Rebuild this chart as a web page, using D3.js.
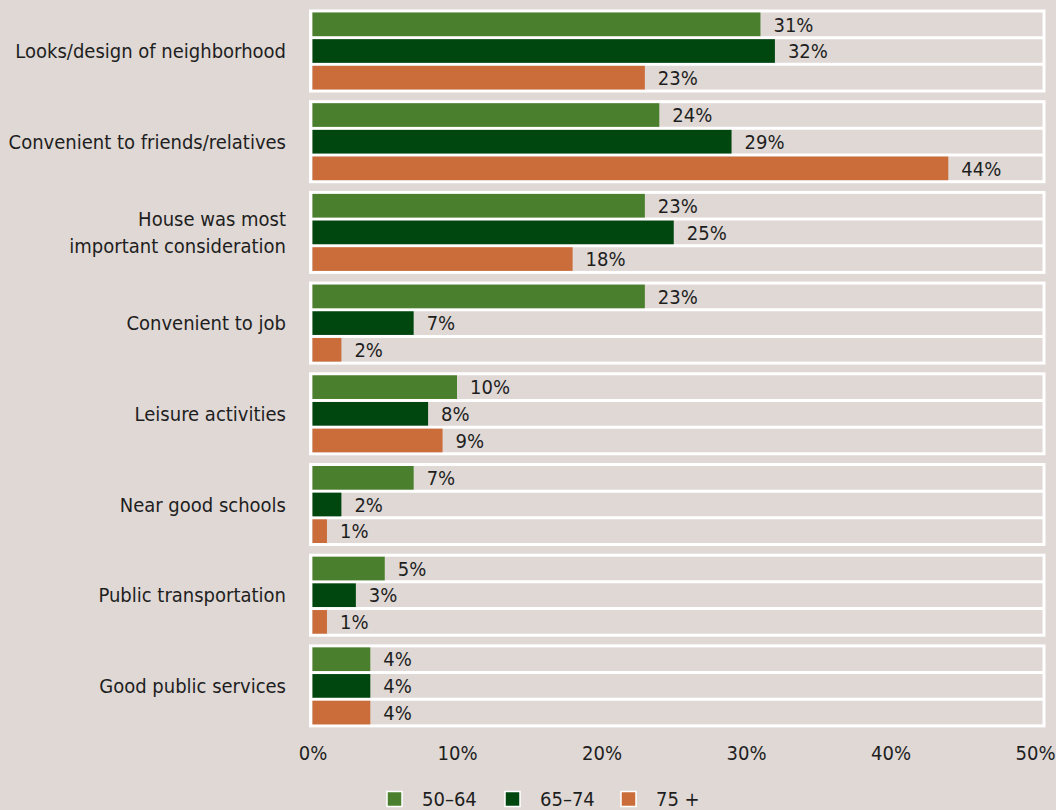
<!DOCTYPE html>
<html>
<head>
<meta charset="utf-8">
<script src="https://cdn.jsdelivr.net/npm/d3@7/dist/d3.min.js"></script>
<style>
  html, body { margin: 0; padding: 0; background: #dfd8d5; }
  svg { display: block; }
  text { font-family: "DejaVu Sans Condensed", "DejaVu Sans", sans-serif; font-stretch: condensed; fill: #1e1e1e; }
</style>
</head>
<body>
<svg id="chart" width="1056" height="810"></svg>
<script>
// Reasons for choosing a neighborhood, by age group (percent)
const categories = [
  ["Looks/design of neighborhood"],
  ["Convenient to friends/relatives"],
  ["House was most", "important consideration"],
  ["Convenient to job"],
  ["Leisure activities"],
  ["Near good schools"],
  ["Public transportation"],
  ["Good public services"]
];
const seriesNames = ["50–64", "65–74", "75 +"];
const age50to64 = [31, 24, 23, 23, 10, 7, 5, 4];
const age65to74 = [32, 29, 25, 7, 8, 2, 3, 4];
const age75plus = [23, 44, 18, 2, 9, 1, 1, 4];
const xTicks = [0, 10, 20, 30, 40, 50];

const seriesValues = [age50to64, age65to74, age75plus];
const colors = ["#4a802d", "#00470f", "#cb6d3a"];

const svg = d3.select("#chart");
const W = 1056, H = 810;
svg.append("rect").attr("width", W).attr("height", H).attr("fill", "#dfd8d5");

const FS = 20;
const x = d3.scaleLinear().domain([0, 50]).range([312.5, 1035]);
const step = 90.7, gap = 10.7;
const groupY = d3.scaleBand()
  .domain(d3.range(categories.length))
  .range([11, 11 + step * categories.length - gap])
  .paddingInner(gap / step)
  .paddingOuter(0);
const barY = d3.scaleBand().domain(d3.range(seriesNames.length)).range([0, groupY.bandwidth()]);

const boxLeft = 310.5, boxRight = 1044;

const groups = svg.selectAll("g.grp")
  .data(categories)
  .join("g")
  .attr("class", "grp")
  .attr("transform", (d, i) => `translate(0,${groupY(i)})`);

// white frame around each category block
groups.append("rect")
  .attr("x", boxLeft)
  .attr("y", 0)
  .attr("width", boxRight - boxLeft)
  .attr("height", groupY.bandwidth())
  .attr("fill", "#dfd8d5")
  .attr("stroke", "#ffffff")
  .attr("stroke-width", 3);

// separators between bar rows
groups.each(function () {
  const g = d3.select(this);
  for (let s = 1; s < seriesNames.length; s++) {
    g.append("line")
      .attr("x1", boxLeft).attr("x2", boxRight)
      .attr("y1", barY(s)).attr("y2", barY(s))
      .attr("stroke", "#ffffff").attr("stroke-width", 3);
  }
});

// bars and value labels
groups.each(function (cat, i) {
  const g = d3.select(this);
  seriesValues.forEach((vals, s) => {
    const v = vals[i];
    const y0 = barY(s) + 1.5;
    const h = barY.bandwidth() - 3;
    g.append("rect")
      .attr("x", x(0))
      .attr("y", y0)
      .attr("width", x(v) - x(0))
      .attr("height", h)
      .attr("fill", colors[s]);
    g.append("text")
      .attr("x", x(v) + 13)
      .attr("y", y0 + h / 2)
      .attr("dy", "0.36em")
      .attr("font-size", FS)
      .text(v + "%");
  });
});

// category labels
groups.each(function (cat) {
  const g = d3.select(this);
  const cy = groupY.bandwidth() / 2;
  const lh = 27;
  const t = g.append("text")
    .attr("text-anchor", "end")
    .attr("font-size", FS);
  cat.forEach((line, k) => {
    t.append("tspan")
      .attr("x", 286)
      .attr("y", cy + (k - (cat.length - 1) / 2) * lh)
      .attr("dy", "0.36em")
      .text(line);
  });
});

// x axis labels
const axis = d3.axisBottom(x)
  .tickValues(xTicks)
  .tickFormat(d => d + "%")
  .tickSize(0)
  .tickPadding(0);
const axisG = svg.append("g").attr("transform", "translate(0,746)").call(axis);
axisG.select(".domain").remove();
axisG.selectAll("text")
  .attr("font-size", FS)
  .attr("fill", "#1e1e1e")
  .style("font-family", "\"DejaVu Sans Condensed\", \"DejaVu Sans\", sans-serif");

// legend
const legendX = [387, 505, 621];
const legend = svg.append("g").attr("transform", "translate(0,799)");
seriesNames.forEach((name, s) => {
  legend.append("rect")
    .attr("x", legendX[s]).attr("y", -7.5)
    .attr("width", 15).attr("height", 15)
    .attr("fill", colors[s])
    .attr("stroke", "#ffffff").attr("stroke-width", 1.5);
  legend.append("text")
    .attr("x", legendX[s] + 35)
    .attr("y", 0)
    .attr("dy", "0.36em")
    .attr("font-size", FS)
    .text(name);
});
</script>
</body>
</html>
